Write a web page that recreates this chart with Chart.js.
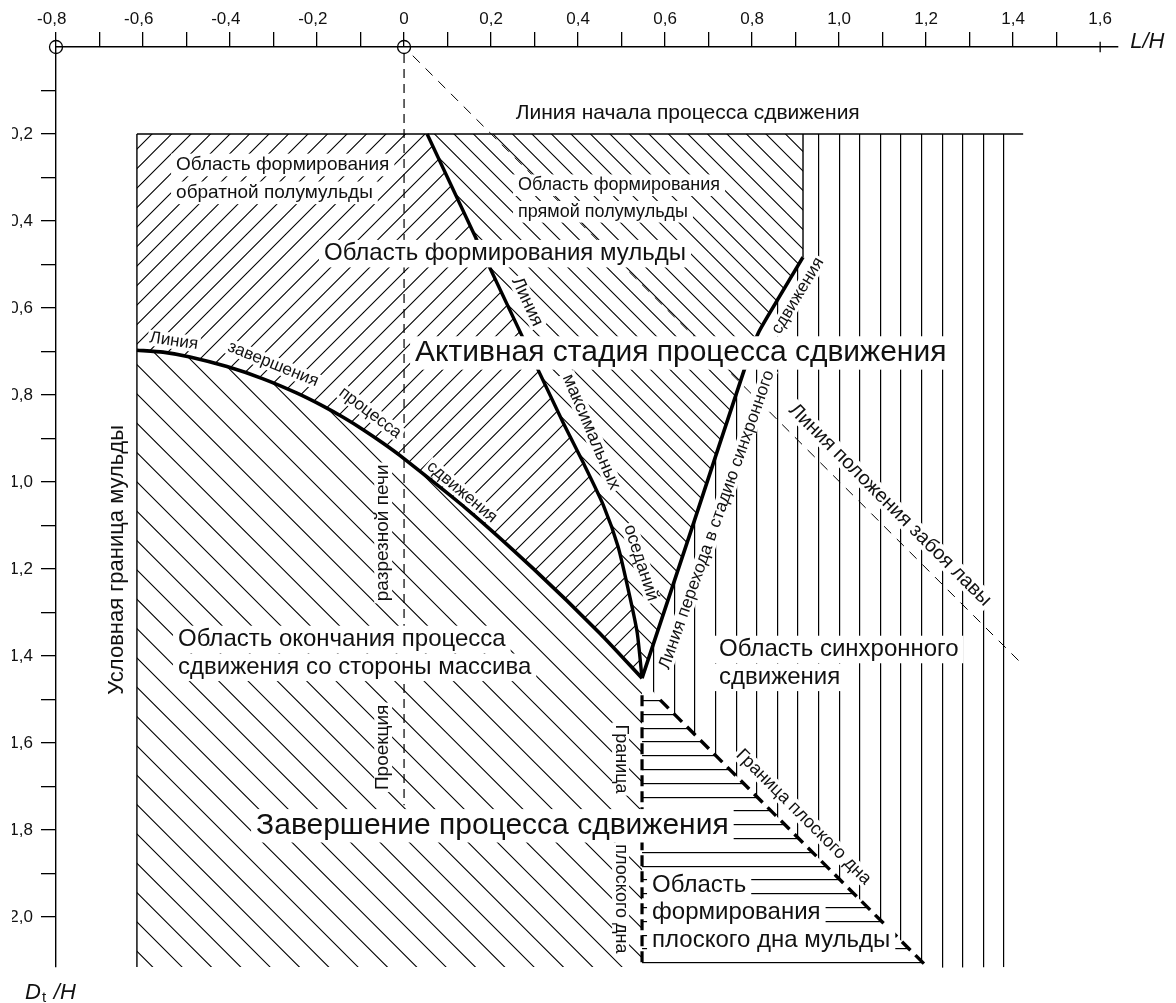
<!DOCTYPE html>
<html lang="ru">
<head>
  <meta charset="UTF-8">
  <title>Стадии процесса сдвижения</title>
  <script src="https://cdn.jsdelivr.net/npm/chart.js@4"></script>
  <style>
    html, body { margin: 0; padding: 0; background: #fff; }
    canvas { display: block; }
  </style>
</head>
<body>
<canvas id="scheme" width="1176" height="1003"></canvas>

<script>
  // ---- данные (L/H, Dt/H) ----
  const xTickValues = [-0.8, -0.7, -0.6, -0.5, -0.4, -0.3, -0.2, -0.1, 0, 0.1, 0.2, 0.3, 0.4, 0.5, 0.6, 0.7, 0.8, 0.9, 1.0, 1.1, 1.2, 1.3, 1.4, 1.5, 1.6];
  const xTickLabels = ['-0,8', '', '-0,6', '', '-0,4', '', '-0,2', '', '0', '', '0,2', '', '0,4', '', '0,6', '', '0,8', '', '1,0', '', '1,2', '', '1,4', '', '1,6'];
  const yTickValues = [0.1, 0.2, 0.3, 0.4, 0.5, 0.6, 0.7, 0.8, 0.9, 1.0, 1.1, 1.2, 1.3, 1.4, 1.5, 1.6, 1.7, 1.8, 1.9, 2.0];
  const yTickLabels = ['', '0,2', '', '0,4', '', '0,6', '', '0,8', '', '1,0', '', '1,2', '', '1,4', '', '1,6', '', '1,8', '', '2,0'];

  const frameTop = [[-0.614, 0.2], [1.423, 0.2]];
  const frameLeft = [[-0.614, 0.2], [-0.614, 2.115]];
  const frameMid = [[0.917, 0.2], [0.917, 0.483]];

  // линия завершения процесса сдвижения
  const completionLine = [[-0.614, 0.697], [-0.554, 0.7014], [-0.492, 0.7126], [-0.407, 0.7347], [-0.324, 0.7628],
    [-0.246, 0.7957], [-0.186, 0.8255], [-0.140, 0.8513], [-0.094, 0.8798], [-0.048, 0.9110], [-0.009, 0.9395],
    [0.145, 1.0628], [0.297, 1.1993], [0.451, 1.3487], [0.547, 1.451]];
  // линия максимальных оседаний
  const maxLine = [[0.053, 0.2], [0.205, 0.524], [0.363, 0.858], [0.412, 0.956], [0.458, 1.053],
    [0.492, 1.149], [0.517, 1.255], [0.536, 1.347], [0.547, 1.451]];
  // линия перехода в стадию синхронного сдвижения
  const syncLine = [[0.547, 1.451], [0.667, 1.090], [0.784, 0.736], [0.814, 0.658], [0.858, 0.582], [0.917, 0.483]];

  const faceLine = [[0.02, 0.02], [1.423, 1.421]];      // линия положения забоя лавы
  const cutLine = [[0, 0.016], [0, 1.743]];             // проекция разрезной печи
  const flatEdge = [[0.547, 1.49], [0.547, 2.115]];      // граница плоского дна (вертикальная)
  const flatDiag = [[0.5885, 1.501], [1.2046, 2.117]];  // граница плоского дна (наклонная)
  const originMarks = [[-0.8, 0], [0, 0]];
  const endTick = [[1.6, -0.012], [1.6, 0.012]];

  // ---- области штриховки ----
  const reverseHalf = [[-0.614, 0.2], ...maxLine, ...completionLine.slice(0, -1).reverse()];
  const directHalf = [[0.917, 0.2], ...[...syncLine].reverse(), ...[...maxLine].reverse().slice(1)];
  const massifSide = [...completionLine, [0.547, 2.115], [-0.614, 2.115]];
  const syncZone = [[0.917, 0.2], [1.393, 0.2], [1.393, 2.115], [1.2046, 2.117], [0.5885, 1.501], ...syncLine];
  const flatZone = [[0.547, 1.4989], [0.5866, 1.4989], [1.2046, 2.117], [0.547, 2.117]];

  const FONT = '"Liberation Sans", Arial, sans-serif';

  // подписи: [L, D], размер, поворот
  const notes = [
    { text: 'Линия начала процесса сдвижения', at: [0.652, 0.1655], size: 21 },
    { text: 'Область формирования', at: [-0.524, 0.283], size: 19, align: 'left', bg: true },
    { text: 'обратной полумульды', at: [-0.524, 0.347], size: 19, align: 'left', bg: true },
    { text: 'Область формирования', at: [0.262, 0.329], size: 18, align: 'left', bg: true },
    { text: 'прямой полумульды', at: [0.262, 0.390], size: 18, align: 'left', bg: true },
    { text: 'Область формирования мульды', at: [0.232, 0.490], size: 24, bg: true },
    { text: 'Активная стадия процесса сдвижения', at: [0.636, 0.722], size: 30, bg: true },
    { text: 'Область окончания процесса', at: [-0.5195, 1.377], size: 24, align: 'left', bg: true },
    { text: 'сдвижения со стороны массива', at: [-0.5195, 1.441], size: 24, align: 'left', bg: true },
    { text: 'Область синхронного', at: [0.724, 1.400], size: 24, align: 'left', bg: true },
    { text: 'сдвижения', at: [0.724, 1.464], size: 24, align: 'left', bg: true },
    { text: 'Завершение процесса сдвижения', at: [0.203, 1.809], size: 30, bg: true },
    { text: 'Область', at: [0.570, 1.9425], size: 24, align: 'left', bg: true },
    { text: 'формирования', at: [0.570, 2.0046], size: 24, align: 'left', bg: true },
    { text: 'плоского дна мульды', at: [0.570, 2.069], size: 24, align: 'left', bg: true },
    { text: 'Граница', at: [0.4977, 1.637], size: 18, rot: 90, base: 'middle', bg: true },
    { text: 'плоского дна', at: [0.4977, 1.9586], size: 18, rot: 90, base: 'middle', bg: true },
    { text: 'Граница плоского дна', at: [0.918, 1.770], size: 18, rot: 45, base: 'middle', bg: true },
    { text: 'Проекция', at: [-0.048, 1.610], size: 19, rot: -90, base: 'middle', bg: true },
    { text: 'разрезной печи', at: [-0.048, 1.117], size: 19, rot: -90, base: 'middle', bg: true },
    { text: 'Условная граница мульды', at: [-0.660, 1.179], size: 22, rot: -90, base: 'middle', bg: true },
    { text: 'Линия', at: [-0.529, 0.676], size: 17, rot: 8, base: 'middle', bg: true },
    { text: 'завершения', at: [-0.301, 0.729], size: 17, rot: 22, base: 'middle', bg: true },
    { text: 'процесса', at: [-0.078, 0.841], size: 17, rot: 37, base: 'middle', bg: true },
    { text: 'сдвижения', at: [0.133, 1.023], size: 17, rot: 40, base: 'middle', bg: true },
    { text: 'Линия', at: [0.283, 0.586], size: 18, rot: 65, base: 'middle', bg: true },
    { text: 'максимальных', at: [0.430, 0.885], size: 18, rot: 67, base: 'middle', bg: true },
    { text: 'оседаний', at: [0.5445, 1.186], size: 18, rot: 72, base: 'middle', bg: true },
    { text: 'Линия перехода в стадию синхронного', at: [0.719, 1.087], size: 17.5, rot: -70.5, base: 'middle', bg: true },
    { text: 'сдвижения', at: [0.905, 0.572], size: 17, rot: -59, base: 'middle', bg: true },
    { text: 'Линия положения забоя лавы', at: [1.117, 1.053], size: 20, rot: 45, base: 'middle', bg: true },
    { text: 'L/H', at: [1.669, 0.0023], size: 22, align: 'left', italic: true },
    { text: 'D', at: [-0.871, 2.1885], size: 22, align: 'left', italic: true },
    { text: 't', at: [-0.832, 2.1954], size: 15, align: 'left' },
    { text: '/H', at: [-0.805, 2.1885], size: 22, align: 'left', italic: true }
  ];

  // ---- штриховка ----
  function hatch(kind, tile, count, ox, oy) {
    const c = document.createElement('canvas');
    c.width = tile; c.height = tile;
    const g = c.getContext('2d');
    const s = tile / count;
    g.strokeStyle = '#000';
    g.fillStyle = '#000';
    g.lineWidth = 1.1;
    g.beginPath();
    if (kind === 'fwd') {
      for (let k = -1; k <= 2 * count + 1; k++) {
        const cc = k * s;
        g.moveTo(cc + 2, -2); g.lineTo(cc - tile - 2, tile + 2);
      }
    } else if (kind === 'back') {
      for (let k = -count - 1; k <= count + 1; k++) {
        const cc = k * s;
        g.moveTo(cc - 2, -2); g.lineTo(cc + tile + 2, tile + 2);
      }
    }
    g.stroke();
    if (kind === 'vert') for (let k = 0; k < count; k++) g.fillRect(Math.round(k * s), 0, 1.2, tile);
    if (kind === 'horz') for (let k = 0; k < count; k++) g.fillRect(0, Math.round(k * s), tile, 1.2);
    const p = g.createPattern(c, 'repeat');
    p.setTransform(new DOMMatrix().translate(ox, oy));
    return p;
  }

  const pts = arr => arr.map(([x, y]) => ({ x, y }));
  const region = (arr, pattern) => ({ data: pts(arr), hatch: pattern, showLine: false, pointRadius: 0 });
  const stroke = (arr, width, dash, tension) => ({
    data: pts(arr), showLine: true, borderColor: '#000', borderWidth: width, borderDash: dash || [],
    pointRadius: 0, tension: tension || 0, fill: false, clip: false, borderCapStyle: 'butt'
  });

  const hatchFill = {
    id: 'hatchFill',
    beforeDatasetsDraw(chart) {
      const ctx = chart.ctx;
      chart.data.datasets.forEach((ds, i) => {
        if (!ds.hatch) return;
        const p = chart.getDatasetMeta(i).data;
        ctx.save();
        ctx.beginPath();
        p.forEach((el, j) => j ? ctx.lineTo(el.x, el.y) : ctx.moveTo(el.x, el.y));
        ctx.closePath();
        ctx.fillStyle = ds.hatch;
        ctx.fill();
        ctx.restore();
      });
    }
  };

  const noteLayer = {
    id: 'noteLayer',
    afterDatasetsDraw(chart) {
      const { ctx } = chart;
      const sx = chart.scales.x, sy = chart.scales.y;
      notes.forEach(n => {
        const size = n.size;
        ctx.save();
        ctx.translate(sx.getPixelForValue(n.at[0]), sy.getPixelForValue(n.at[1]));
        ctx.rotate((n.rot || 0) * Math.PI / 180);
        ctx.font = (n.italic ? 'italic ' : '') + size + 'px ' + FONT;
        ctx.textAlign = n.align || 'center';
        ctx.textBaseline = n.base || 'alphabetic';
        const w = ctx.measureText(n.text).width;
        if (n.bg) {
          const mid = ctx.textBaseline === 'middle';
          const padX = mid ? 2 : 5, padY = mid ? 0 : 2;
          const x0 = ctx.textAlign === 'left' ? 0 : ctx.textAlign === 'center' ? -w / 2 : -w;
          const top = mid ? -0.47 * size : -0.76 * size;
          const bot = mid ? 0.47 * size : 0.22 * size;
          ctx.fillStyle = '#fff';
          ctx.fillRect(x0 - padX, top - padY, w + 2 * padX, bot - top + 2 * padY);
        }
        ctx.fillStyle = '#111';
        ctx.fillText(n.text, 0, 0);
        ctx.restore();
      });
      // обрез левого края, как на исходном рисунке
      ctx.save();
      ctx.fillStyle = '#fff';
      ctx.fillRect(0, 60, 12, 880);
      ctx.restore();
    }
  };

  new Chart(document.getElementById('scheme'), {
    type: 'scatter',
    data: {
      datasets: [
        stroke(originMarks, 0),
        stroke(endTick, 1.3),
        stroke(completionLine, 3.6, [], 0.2),
        stroke(maxLine, 3.4, [], 0.2),
        stroke(syncLine, 3.6, [], 0.2),
        stroke(flatEdge, 3.2, [11, 5]),
        stroke(flatDiag, 3.4, [12, 7]),
        stroke(faceLine, 1, [10, 8]),
        stroke(cutLine, 1.2, [9, 6]),
        stroke(frameTop, 1.4),
        stroke(frameLeft, 1.4),
        stroke(frameMid, 1.4),
        region(reverseHalf, hatch('fwd', 39, 2, 13, 0)),
        region(directHalf, hatch('back', 39, 2, 8, 0)),
        region(massifSide, hatch('back', 88, 3, 7, 0)),
        region(syncZone, hatch('vert', 103, 5, 97, 0)),
        region(flatZone, hatch('horz', 69, 5, 0, 10))
      ].map((ds, i) => i === 0 ? Object.assign(ds, {
        showLine: false, pointRadius: 6.5, pointStyle: 'circle',
        pointBackgroundColor: 'rgba(0,0,0,0)', pointBorderColor: '#000', pointBorderWidth: 1.3
      }) : ds)
    },
    options: {
      responsive: false,
      animation: false,
      devicePixelRatio: 1,
      events: [],
      layout: { padding: { left: 0, top: 0, right: 58, bottom: 36 } },
      plugins: { legend: { display: false }, tooltip: { enabled: false } },
      scales: {
        x: {
          type: 'linear', position: 'top', min: -0.8, max: 1.641,
          afterBuildTicks: s => { s.ticks = xTickValues.map(v => ({ value: v })); },
          afterFit: s => { s.height = 47; },
          grid: {
            drawOnChartArea: false, drawTicks: true, tickLength: 15, lineWidth: 1.3,
            tickColor: c => c.index === xTickValues.length - 1 ? 'rgba(0,0,0,0)' : '#000'
          },
          border: { display: true, color: '#000', width: 1.4 },
          ticks: {
            autoSkip: false, maxRotation: 0, padding: 2, color: '#111',
            font: { family: FONT, size: 17 },
            // у отрицательных подписей цифры стоят по центру штриха, минус выступает влево
            callback: (v, i) => xTickLabels[i].startsWith('-') ? xTickLabels[i] + '\u2002' : xTickLabels[i]
          }
        },
        y: {
          type: 'linear', reverse: true, min: 0, max: 2.115,
          afterBuildTicks: s => { s.ticks = yTickValues.map(v => ({ value: v })); },
          afterFit: s => { s.width = 56; },
          grid: { drawOnChartArea: false, drawTicks: true, tickLength: 15, lineWidth: 1.3, color: '#000' },
          border: { display: true, color: '#000', width: 1.4 },
          ticks: {
            autoSkip: false, padding: 8, color: '#111',
            font: { family: FONT, size: 17 },
            callback: (v, i) => yTickLabels[i]
          }
        }
      }
    },
    plugins: [hatchFill, noteLayer]
  });
</script>
</body>
</html>
